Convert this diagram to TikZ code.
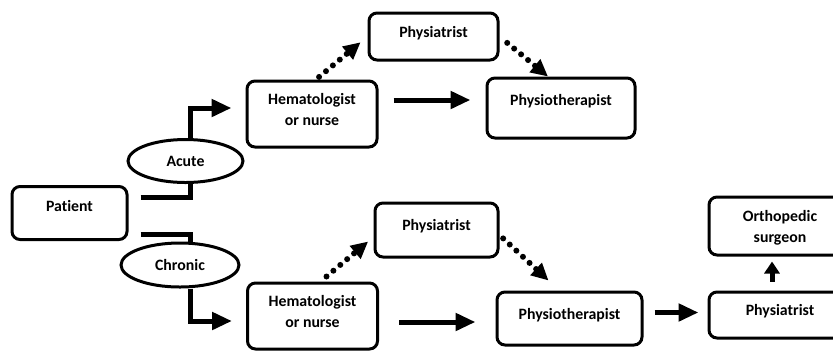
\documentclass[tikz,border=0pt]{standalone}
\usepackage{fontspec}
\setmainfont{Carlito}[Ligatures=NoCommon]
\usetikzlibrary{arrows.meta,calc,shapes.geometric}
\newcommand{\pxw}{0.03cm}

\begin{document}
\begin{tikzpicture}[x=0.03cm, y=-0.03cm, block/.style={rectangle, draw, rounded corners=8*\pxw, line width=3*\pxw, align=center, text depth=10*\pxw, font=\bfseries}, phase/.style={ellipse, draw, line width=3*\pxw, inner sep=0pt, font=\bfseries}, flow/.style={line width=5*\pxw, -{Triangle[length=20*\pxw, width=17*\pxw]}}, link/.style={line width=5*\pxw}, hint/.style={line width=6*\pxw, line cap=round, dash pattern=on 0pt off 9*\pxw, -{Triangle[length=17*\pxw, width=16*\pxw]}}]
\fontsize{13.5}{18}\selectfont
  \useasboundingbox (0,0) rectangle (833,351);
  \node[block, minimum width=115*\pxw, minimum height=53*\pxw, text depth=14*\pxw] (patient) at (69.5,213) {Patient};
  \node[phase, minimum width=115*\pxw, minimum height=43*\pxw] (acute) at (185.5,161) {Acute};
  \node[phase, minimum width=118*\pxw, minimum height=44*\pxw] (chronic) at (180,265) {Chronic};

  % acute branch
  \node[block, minimum width=130*\pxw, minimum height=66*\pxw] (hemaA) at (312,114) {Hematologist\\or nurse};
  \node[block, minimum width=129*\pxw, minimum height=47*\pxw] (physA) at (433.5,36.5) {Physiatrist};
  \node[block, minimum width=148*\pxw, minimum height=60*\pxw, text depth=16*\pxw] (therA) at (561,108) {Physiotherapist};

  % chronic branch
  \node[block, minimum width=130*\pxw, minimum height=66*\pxw] (hemaB) at (312.5,316) {Hematologist\\or nurse};
  \node[block, minimum width=123*\pxw, minimum height=54*\pxw] (physB) at (436.5,230) {Physiatrist};
  \node[block, minimum width=145*\pxw, minimum height=53*\pxw] (therB) at (569.5,318.5) {Physiotherapist};
  \node[block, minimum width=142*\pxw, minimum height=46*\pxw] (physC) at (780,315) {Physiatrist};
  \node[block, minimum width=142*\pxw, minimum height=58*\pxw, text depth=0pt] (ortho) at (780,226) {Orthopedic\\surgeon};

  \coordinate (acuteIn) at ($(patient.east)+(12,-16)$);
  \coordinate (chronicIn) at ($(patient.east)+(12,21)$);
  \draw[link] (acuteIn) -| ($(acute.south)+(4.5,0)$);
  \draw[flow] ($(acute.north)+(4.5,0)$) |- ($(hemaA.west)+(-14,-6)$);
  \draw[link] (chronicIn) -| ($(chronic.north)+(10,0)$);
  \draw[flow] ($(chronic.south)+(10,0)$) |- ($(hemaB.west)+(-14,5)$);

  \draw[hint, shorten <=4*\pxw, shorten >=9*\pxw] ($(hemaA.north)+(4,0)$) -- (physA.west);
  \draw[hint, shorten <=10*\pxw] (physA.east) -- ($(therA.north)+(-13,0)$);
  \coordinate (hemaAout) at ($(hemaA.east)+(15,-14)$);
  \draw[flow, shorten >=15*\pxw] (hemaAout) -- (hemaAout -| therA.west);

  \draw[hint, shorten >=7*\pxw] ($(hemaB.north)+(14,-5)$) -- ($(physB.west)+(0,7)$);
  \draw[hint, shorten <=5*\pxw] ($(physB.east)+(0,5)$) -- ($(therB.north)+(-21,-10)$);
  \coordinate (hemaBout) at ($(hemaB.east)+(20,6)$);
  \draw[flow, shorten >=20*\pxw] (hemaBout) -- (hemaBout -| therB.west);
  \coordinate (therBout) at ($(therB.east)+(11,-6)$);
  \draw[flow, shorten >=9*\pxw] (therBout) -- (therBout -| physC.west);
  \coordinate (physCout) at ($(physC.north)+(-8,-9)$);
  \draw[line width=5*\pxw, -{Triangle[length=12*\pxw, width=15*\pxw]}, shorten >=5*\pxw] (physCout) -- (physCout |- ortho.south);
\end{tikzpicture}
\end{document}
